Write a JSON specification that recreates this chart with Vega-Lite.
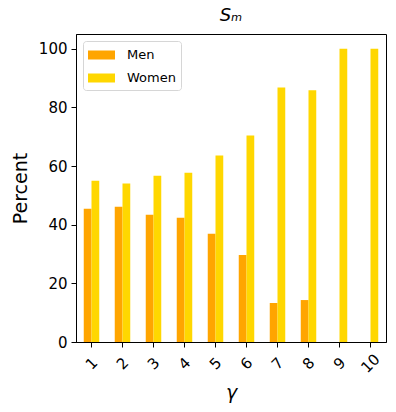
{
  "$schema": "https://vega.github.io/schema/vega-lite/v6.json",
  "autosize": {"type": "none"},
  "padding": {"left": 76, "top": 34, "right": 10, "bottom": 70},
  "width": 310,
  "height": 308,
  "title": {"text": "Sₘ", "font": "DejaVu Sans", "fontStyle": "italic", "fontWeight": "normal", "fontSize": 18, "offset": 9, "color": "black"},
  "config": {
    "view": {"stroke": "black", "strokeWidth": 1},
    "axis": {"domainColor": "black", "tickColor": "black", "labelColor": "black", "titleColor": "black", "labelFont": "DejaVu Sans", "titleFont": "DejaVu Sans", "labelFontSize": 15, "titleFontSize": 19, "titleFontWeight": "normal", "tickSize": 5, "grid": false}
  },
  "data": {
    "values": [
      {"g": 1, "sex": "Men", "pct": 45.4}, {"g": 1, "sex": "Women", "pct": 55.0},
      {"g": 2, "sex": "Men", "pct": 46.1}, {"g": 2, "sex": "Women", "pct": 54.0},
      {"g": 3, "sex": "Men", "pct": 43.4}, {"g": 3, "sex": "Women", "pct": 56.7},
      {"g": 4, "sex": "Men", "pct": 42.4}, {"g": 4, "sex": "Women", "pct": 57.7},
      {"g": 5, "sex": "Men", "pct": 36.9}, {"g": 5, "sex": "Women", "pct": 63.6},
      {"g": 6, "sex": "Men", "pct": 29.7}, {"g": 6, "sex": "Women", "pct": 70.4},
      {"g": 7, "sex": "Men", "pct": 13.3}, {"g": 7, "sex": "Women", "pct": 86.8},
      {"g": 8, "sex": "Men", "pct": 14.3}, {"g": 8, "sex": "Women", "pct": 85.8},
      {"g": 9, "sex": "Men", "pct": 0}, {"g": 9, "sex": "Women", "pct": 100},
      {"g": 10, "sex": "Men", "pct": 0}, {"g": 10, "sex": "Women", "pct": 100}
    ]
  },
  "mark": {"type": "bar"},
  "encoding": {
    "x": {"field": "g", "type": "ordinal", "scale": {"paddingInner": 0.5, "paddingOuter": 0.25},
      "axis": {"title": "γ", "titleFontStyle": "italic", "labelAngle": -45, "labelAlign": "center", "labelBaseline": "middle", "labelPadding": 16, "titlePadding": 8}},
    "xOffset": {"field": "sex", "type": "nominal", "scale": {"paddingInner": 0, "paddingOuter": 0}},
    "y": {"field": "pct", "type": "quantitative", "scale": {"domain": [0, 105], "nice": false},
      "axis": {"title": "Percent", "values": [0, 20, 40, 60, 80, 100], "labelPadding": 4, "titlePadding": 8}},
    "color": {"field": "sex", "type": "nominal", "scale": {"domain": ["Men", "Women"], "range": ["#FFA500", "#FFD700"]},
      "legend": {"title": null, "orient": "top-left", "offset": 7, "symbolType": "M-1,-0.5h3v1h-3z", "symbolSize": 324, "symbolStrokeWidth": 0, "labelFont": "DejaVu Sans", "labelFontSize": 13, "labelColor": "black", "labelOffset": 21, "strokeColor": "#d6d6d6", "fillColor": "white", "cornerRadius": 3, "padding": 5, "rowPadding": 7}}
  }
}
